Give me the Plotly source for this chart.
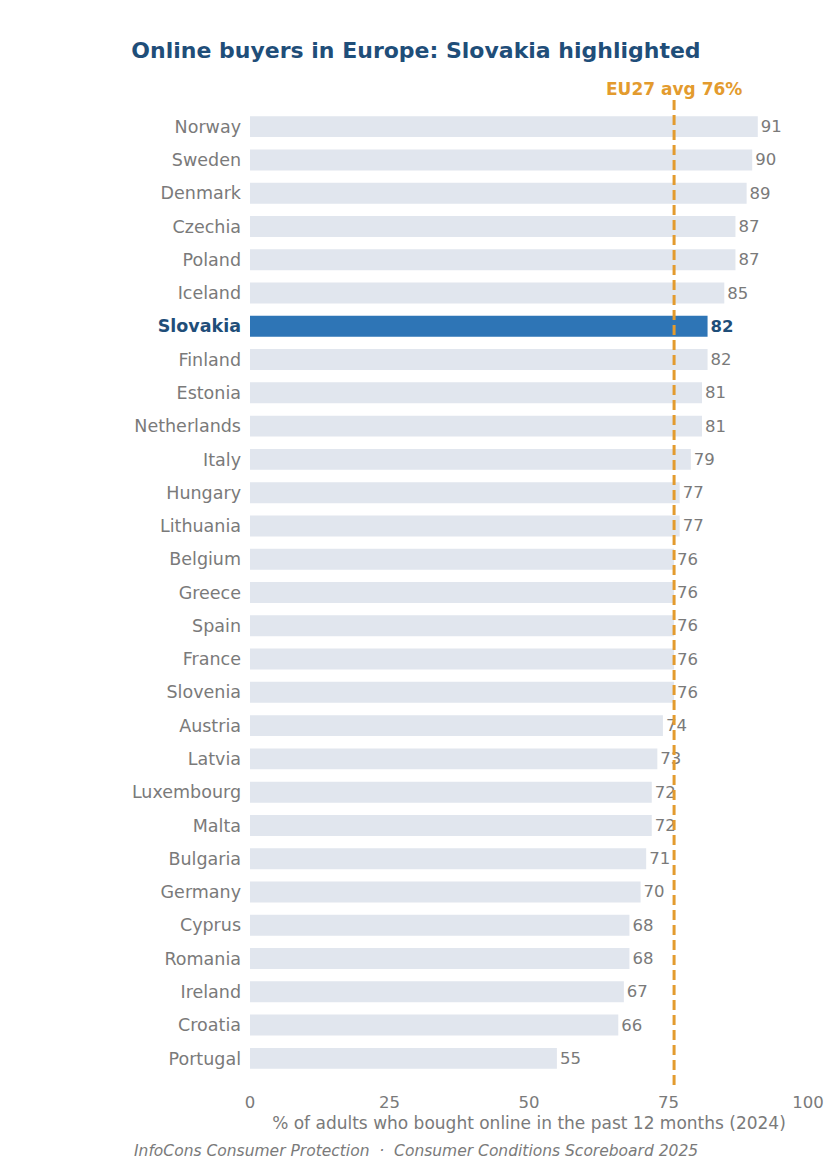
import plotly.graph_objects as go

countries = [
    "Norway", "Sweden", "Denmark", "Czechia", "Poland", "Iceland", "Slovakia",
    "Finland", "Estonia", "Netherlands", "Italy", "Hungary", "Lithuania",
    "Belgium", "Greece", "Spain", "France", "Slovenia", "Austria", "Latvia",
    "Luxembourg", "Malta", "Bulgaria", "Germany", "Cyprus", "Romania",
    "Ireland", "Croatia", "Portugal",
]
values = [91, 90, 89, 87, 87, 85, 82, 82, 81, 81, 79, 77, 77, 76, 76, 76, 76,
          76, 74, 73, 72, 72, 71, 70, 68, 68, 67, 66, 55]
eu_avg = 76
highlight = "Slovakia"

font_family = "DejaVu Sans"
grey_text = "#7a7a7a"
bar_grey = "#e1e6ee"
blue = "#2e75b6"
dark_blue = "#1f4e79"
orange = "#e39b2e"


def main():
    colors = [blue if c == highlight else bar_grey for c in countries]
    labels = [f"<b>{v}</b>" if c == highlight else str(v)
              for c, v in zip(countries, values)]
    label_colors = [dark_blue if c == highlight else grey_text for c in countries]
    tick_text = [
        f"<span style='color:{dark_blue}'><b>{c}</b></span>" if c == highlight else c
        for c in countries
    ]

    fig = go.Figure(
        go.Bar(
            x=values,
            y=list(range(len(countries))),
            orientation="h",
            marker=dict(color=colors, line=dict(width=0)),
            text=labels,
            textposition="outside",
            textfont=dict(color=label_colors, size=16.5, family=font_family),
            cliponaxis=False,
            hoverinfo="skip",
        )
    )

    fig.add_shape(
        type="line", xref="x", yref="paper",
        x0=eu_avg, x1=eu_avg, y0=0, y1=1,
        line=dict(color=orange, width=3, dash="10px,5px"),
        layer="above",
    )
    fig.add_annotation(
        x=eu_avg, y=1, xref="x", yref="paper",
        yanchor="bottom", yshift=-1, showarrow=False,
        text=f"<b>EU27 avg {eu_avg}%</b>",
        font=dict(color=orange, size=17, family=font_family),
    )
    # footer centred under the whole figure, not the plot area
    fig.add_annotation(
        x=(408 - 242) / 558, y=-0.067, xref="paper", yref="paper",
        xanchor="center", yanchor="middle", showarrow=False,
        text="<i>InfoCons Consumer Protection  ·  Consumer Conditions Scoreboard 2025</i>",
        font=dict(color=grey_text, size=15.5, family=font_family),
    )

    fig.update_layout(
        width=833,
        height=1173,
        plot_bgcolor="white",
        paper_bgcolor="white",
        bargap=0.37,
        showlegend=False,
        margin=dict(l=242, r=33, t=92, b=96),
        font=dict(family=font_family, color=grey_text, size=17),
        title=dict(
            text="<b>Online buyers in Europe: Slovakia highlighted</b>",
            x=408 / 833, xref="container", y=1 - 42 / 1173, yanchor="middle",
            font=dict(size=22, color=dark_blue, family=font_family),
        ),
    )
    fig.update_yaxes(
        tickvals=list(range(len(countries))),
        ticktext=tick_text,
        range=[len(countries) - 0.2, -0.8],
        showgrid=False, zeroline=False, showline=False,
        ticks="", ticklabelstandoff=8,
        tickfont=dict(size=17.5, color=grey_text),
    )
    fig.update_xaxes(
        range=[0, 100],
        tickvals=[0, 25, 50, 75, 100],
        showgrid=False, zeroline=False, showline=False,
        ticks="", ticklabelstandoff=5,
        tickfont=dict(size=16.5, color=grey_text),
        title=dict(
            text="% of adults who bought online in the past 12 months (2024)",
            font=dict(size=17, color=grey_text),
            standoff=6,
        ),
    )

    fig.write_html("out.html")


if __name__ == "__main__":
    main()
